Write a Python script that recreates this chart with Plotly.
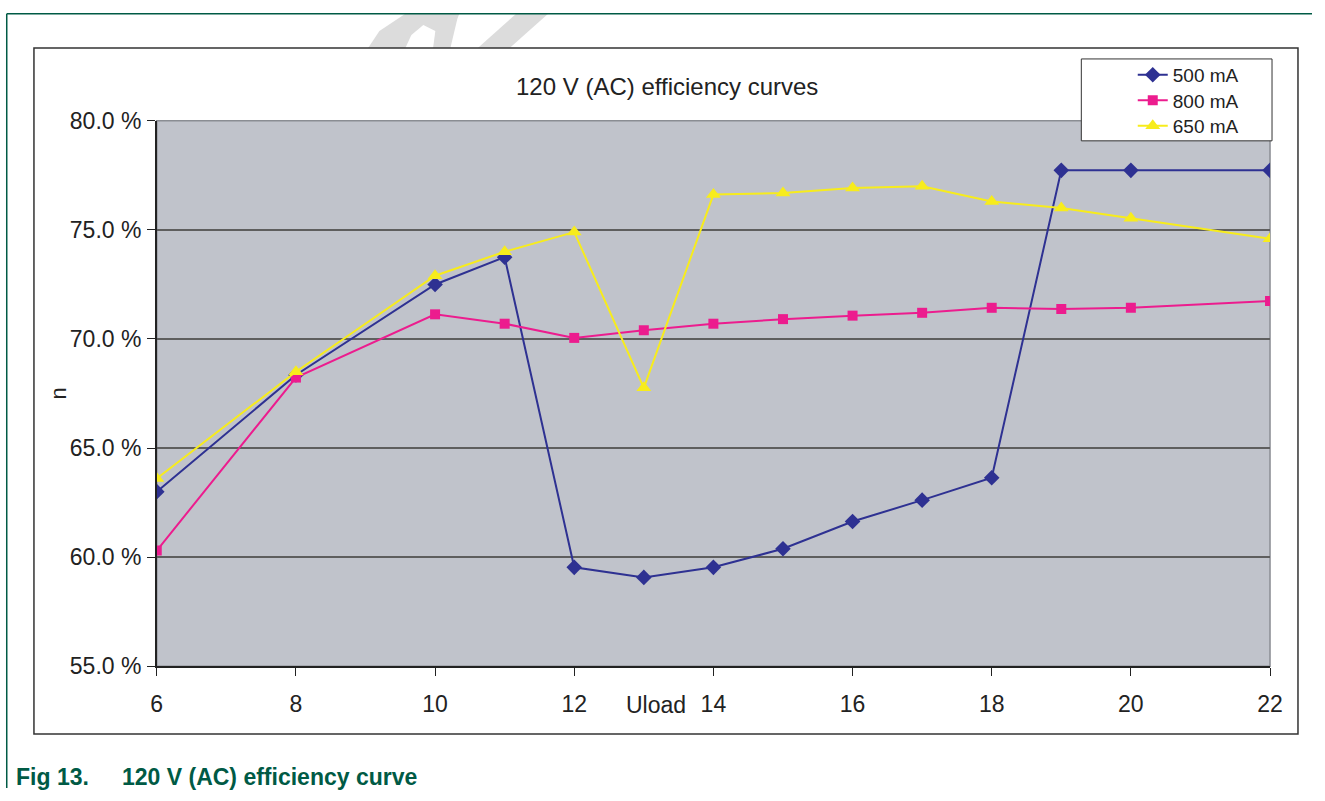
import plotly.graph_objects as go

# Uload values (V) and efficiency (%)
uload = [6, 8, 10, 11, 12, 13, 14, 15, 16, 17, 18, 19, 20, 22]
eff_500 = [63.0, 68.35, 72.5, 73.75, 59.53, 59.07, 59.53, 60.38, 61.63, 62.61, 63.64, 77.73, 77.73, 77.73]
eff_800 = [60.3, 68.23, 71.13, 70.7, 70.05, 70.4, 70.7, 70.91, 71.07, 71.2, 71.43, 71.37, 71.43, 71.74]
eff_650 = [63.6, 68.5, 72.9, 74.0, 74.9, 67.76, 76.62, 76.69, 76.92, 77.0, 76.3, 76.01, 75.53, 74.6]

y_ticks = [55, 60, 65, 70, 75, 80]
y_ticktext = ["55.0 %", "60.0 %", "65.0 %", "70.0 %", "75.0 %", "80.0 %"]

W, H = 1325, 801
FONT = "Liberation Sans, Arial, sans-serif"
TEAL = "#005a45"

# the captured page comes out slightly shrunk and shifted, so target positions
# (in pixels) are mapped back through that
SX, OX = 0.9872, 4.0
SY, OY = 0.9688, 12.0


def px(x):
    return min(max((x - OX) / SX, 0.75), W - 0.75) / W


def py(y):
    return 1 - min(max((y - OY) / SY, 0.75), H - 0.75) / H


def poly(points):
    # svg path in paper coords from pixel points
    return "M" + " L".join(f"{px(x):.5f},{py(y):.5f}" for x, y in points) + " Z"


fig = go.Figure()

series = [
    ("500 mA", eff_500, "#2e3192", "diamond", 12, "legend", 74),
    ("800 mA", eff_800, "#ec1c8e", "square", 10, "legend2", 99.5),
    ("650 mA", eff_650, "#f7ec1c", "triangle-up", 13, "legend3", 125),
]
legends = {}
for name, vals, color, symbol, size, leg, ly in series:
    fig.add_trace(go.Scatter(
        x=uload, y=vals, name=name, legend=leg,
        mode="lines+markers",
        line=dict(color=color, width=2),
        marker=dict(symbol=symbol, size=size, color=color),
    ))
    legends[leg] = dict(
        x=px(1172) - 40 / W, y=py(ly), xanchor="left", yanchor="middle",
        bgcolor="rgba(0,0,0,0)", borderwidth=0,
        font=dict(size=19, color="#222"),
    )

shapes = [
    # faint watermark fragments peeking above the chart box
    dict(type="path", path=poly([(358, 60), (378, 30), (404, 0), (458, 0), (456, 18), (446, 60)]),
         line=dict(width=0), fillcolor="#dcdcdc"),
    dict(type="path", path=poly([(398, 60), (410, 34), (422, 24), (434, 30), (430, 60)]),
         line=dict(width=0), fillcolor="white"),
    dict(type="path", path=poly([(462, 60), (494, 60), (547, 0), (515, 0)]),
         line=dict(width=0), fillcolor="#dcdcdc"),
    # outer figure frame (top and left edges only, kept inside the page)
    dict(type="line", x0=px(4), y0=py(6), x1=1, y1=py(6), line=dict(color=TEAL, width=1.5)),
    dict(type="line", x0=px(4), y0=py(6), x1=px(4), y1=0, line=dict(color=TEAL, width=1.5)),
    # chart box
    dict(type="rect", x0=px(32), y0=py(47), x1=px(1298), y1=py(734),
         line=dict(color="#333333", width=1.5), fillcolor="white"),
    # plot area
    dict(type="rect", x0=px(155), y0=py(120), x1=px(1270), y1=py(666),
         line=dict(color="#8a8d93", width=1.5), fillcolor="#c0c3cb"),
    # legend box
    dict(type="rect", x0=px(1081), y0=py(58), x1=px(1272), y1=py(140),
         line=dict(color="#333333", width=1), fillcolor="white", layer="above"),
]
for s in shapes:
    s.setdefault("xref", "paper")
    s.setdefault("yref", "paper")
    s.setdefault("layer", "below")

annotations = [
    dict(text="120 V (AC) efficiency curves", x=px(666), y=py(86),
         font=dict(size=24, color="#222")),
    dict(text="n", x=px(57), y=py(393), textangle=-90,
         font=dict(size=22, color="#222")),
    dict(text="Uload", x=px(655), y=py(705),
         font=dict(size=23, color="#222")),
    dict(text="<b>Fig 13.</b>", x=px(12), y=py(777), xanchor="left",
         font=dict(size=23, color=TEAL)),
    dict(text="<b>120 V (AC) efficiency curve</b>", x=px(118), y=py(777), xanchor="left",
         font=dict(size=23, color=TEAL)),
]
for a in annotations:
    a.update(xref="paper", yref="paper", showarrow=False)
    a.setdefault("xanchor", "center")
    a.setdefault("yanchor", "middle")

fig.update_layout(
    width=W, height=H,
    margin=dict(l=0, r=0, t=0, b=0),
    paper_bgcolor="white",
    plot_bgcolor="rgba(0,0,0,0)",
    font=dict(family=FONT, color="#222"),
    shapes=shapes,
    annotations=annotations,
    showlegend=True,
    **legends,
    xaxis=dict(
        domain=[px(155), px(1270)],
        range=[6, 22], dtick=2, tick0=6,
        showgrid=False, zeroline=False,
        showline=True, linecolor="#222", linewidth=1.5,
        ticks="outside", ticklen=8, tickcolor="#222", tickwidth=1,
        ticklabelstandoff=9,
        tickfont=dict(size=23, color="#222"),
    ),
    yaxis=dict(
        domain=[py(666), py(120)],
        range=[55, 80], tickvals=y_ticks, ticktext=y_ticktext,
        showgrid=True, gridcolor="#5e5e5e", gridwidth=1.5,
        zeroline=False,
        showline=True, linecolor="#222", linewidth=1.5,
        ticks="outside", ticklen=8, tickcolor="#222", tickwidth=1,
        ticklabelstandoff=1,
        tickfont=dict(size=23, color="#222"),
    ),
)

# page margin off and no scrollbars so the 1325x801 figure sits flush in the window
fig.write_html(
    "out.html", config={"displayModeBar": False},
    post_script="document.body.style.margin='0';"
                "document.body.style.overflow='hidden';"
                "document.documentElement.style.overflow='hidden';",
)
